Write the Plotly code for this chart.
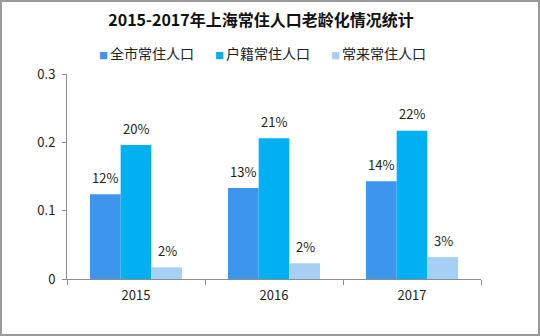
import plotly.graph_objects as go

years = ["2015", "2016", "2017"]
series_names = ["全市常住人口", "户籍常住人口", "常来常住人口"]
city_total = [0.124, 0.133, 0.143]
registered = [0.196, 0.206, 0.217]
non_registered = [0.017, 0.023, 0.032]
colors = ["#3d95ec", "#00b0f0", "#a6cff6"]

W, H = 540, 336
ML, MR, MT, MB = 67, 59, 74, 57

fig = go.Figure()
all_values = [city_total, registered, non_registered]
for name, vals, col in zip(series_names, all_values, colors):
    fig.add_trace(go.Bar(x=years, y=vals, name=name, marker_color=col,
                         marker_line_width=0, showlegend=False))

# value labels above each bar (x given as category index)
offsets = [-31, 0, 31]
for vals, dx in zip(all_values, offsets):
    for i, v in enumerate(vals):
        fig.add_annotation(x=i, y=v, text=f"{v:.0%}", showarrow=False,
                           xshift=dx, yshift=17,
                           font=dict(size=13, color="#222"))

# compact legend row: small coloured squares followed by series names
legend_parts = []
for name, col in zip(series_names, colors):
    legend_parts.append(
        f"<span style='color:{col};font-size:9px'>■ </span>{name}")
legend_text = "\u2003\u2002".join(legend_parts)
fig.add_annotation(xref="paper", yref="paper",
                   x=(262 - ML) / (W - ML - MR),
                   y=1 + (MT - 53) / (H - MT - MB),
                   text=legend_text, showarrow=False,
                   xanchor="center", yanchor="middle",
                   font=dict(size=14, color="#222"))

pw = W - ML - MR
ph = H - MT - MB
fig.add_shape(type="rect", xref="paper", yref="paper",
              x0=-(ML - 1) / pw, x1=1 + (MR - 1) / pw,
              y0=-(MB - 1) / ph, y1=1 + (MT - 1) / ph,
              line=dict(color="#9a9a9a", width=2), layer="below")

fig.update_layout(
    width=W, height=H,
    margin=dict(l=ML, r=MR, t=MT, b=MB),
    paper_bgcolor="white", plot_bgcolor="white",
    font=dict(family="Noto Sans CJK SC", size=13, color="#222"),
    barmode="group", bargap=1/3, bargroupgap=0,
    showlegend=False,
    title=dict(text="<b>2015-2017年上海常住人口老龄化情况统计</b>",
               x=261 / W, xanchor="center", y=1 - 20 / H, yanchor="middle",
               font=dict(size=16, color="#111")),
    xaxis=dict(type="category", categoryorder="array", categoryarray=years,
               range=[-0.5, 2.5],
               showline=True, linecolor="#8c8c8c", linewidth=1,
               ticks="outside", tickson="boundaries", ticklen=5,
               tickcolor="#8c8c8c", showgrid=False, ticklabelstandoff=4,
               tickfont=dict(size=13)),
    yaxis=dict(range=[0, 0.3], dtick=0.1, showline=True, linecolor="#8c8c8c",
               linewidth=1, ticks="outside", ticklen=4, tickcolor="#8c8c8c",
               showgrid=False, zeroline=False, ticklabelstandoff=4,
               tickfont=dict(size=13)),
)

fig.write_html("out.html")
